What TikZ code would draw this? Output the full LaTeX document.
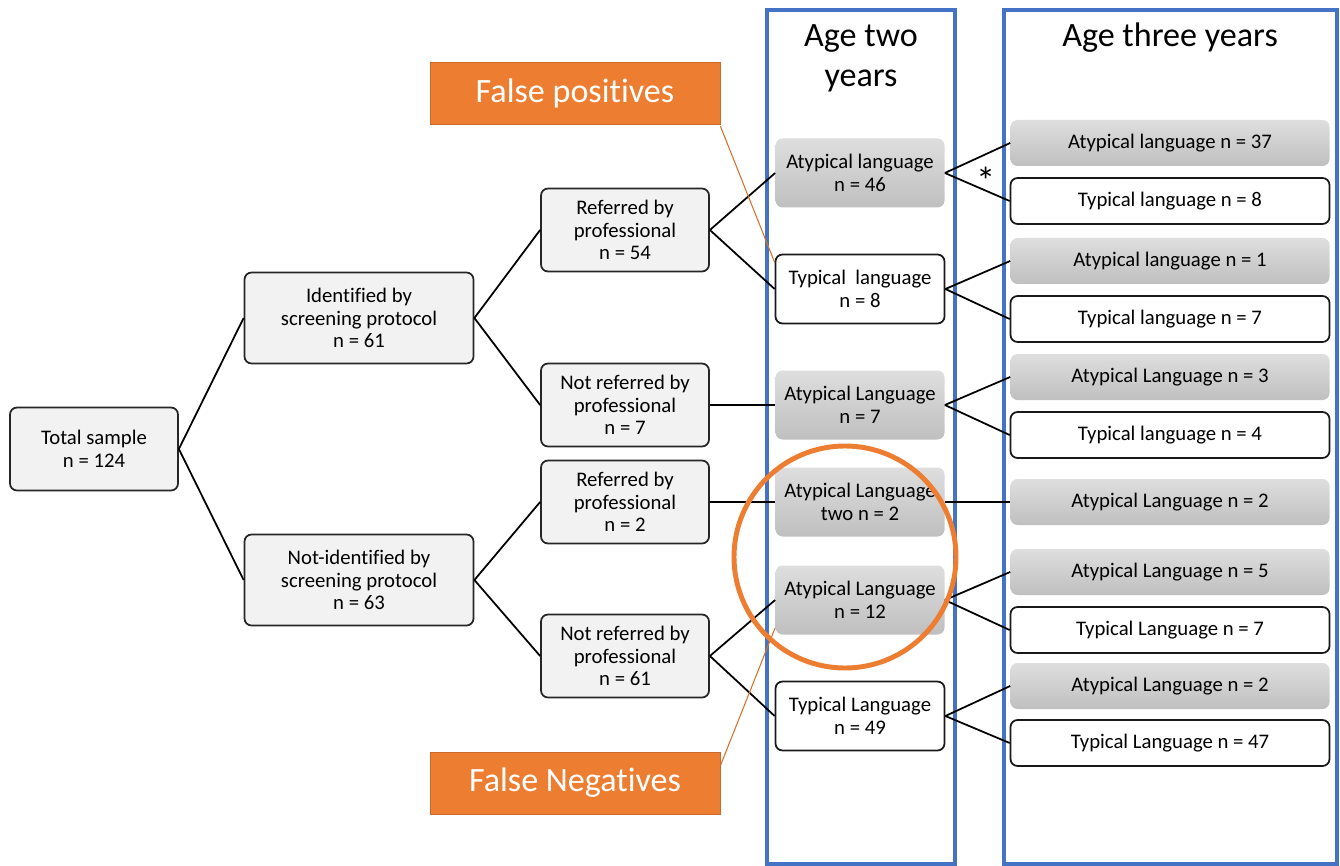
\documentclass[tikz,border=0pt]{standalone}
\usepackage{fontspec}
\setmainfont{Carlito}[Ligatures=NoCommon]
\usetikzlibrary{positioning}
\definecolor{figblue}{HTML}{4472C4}
\definecolor{figorange}{HTML}{ED7D31}
\definecolor{figlight}{HTML}{F2F2F2}

\begin{document}
\begin{tikzpicture}[x=0.2mm,y=-0.2mm,
  base/.style={rounded corners=4pt,align=center,inner sep=2pt,
               font=\fontsize{11.8}{12.9}\selectfont},
  lbox/.style={base,draw=black!85,line width=1pt,fill=figlight,
               minimum width=3.36cm,minimum height=1.66cm},
  wide/.style={minimum width=4.58cm,minimum height=1.82cm},
  grey/.style={base,top color=black!13,bottom color=black!25},
  white/.style={base,draw=black!90,line width=1pt,fill=white},
  two/.style={minimum width=3.38cm,minimum height=1.38cm},
  three/.style={minimum width=6.38cm,minimum height=0.92cm},
  hdr/.style={align=center,font=\fontsize{19.4}{22.7}\selectfont},
  tag/.style={fill=figorange,draw=figorange!85!black,text=white,
              minimum width=5.8cm,minimum height=1.24cm,
              font=\fontsize{19.4}{22}\selectfont},
  link/.style={black,line width=1pt},
  lead/.style={figorange!90!black,line width=0.6pt}
]
\useasboundingbox (0,0) rectangle (1340,866);

% ---- Columns ------------------------------------------------
\draw[figblue,line width=1.8pt] (767,10) rectangle (955,864);
\draw[figblue,line width=1.8pt] (1004,10) rectangle (1337,864);
\node[hdr] (h2) at (861,58) {Age two\\years};
\node[hdr] (h3) at (1170,38) {Age three years};

% ---- Screening ----------------------------------------------
\node[lbox] (tot) at (94,449) {Total sample\\n = 124};
\node[lbox,wide] (idf) at (359,318) {Identified by\\screening protocol\\n = 61};
\node[lbox,wide] (nid) at (359,580) {Not-identified by\\screening protocol\\n = 63};

% ---- Professional -------------------------------------------
\node[lbox] (r54) at (625,230) {Referred by\\professional\\n = 54};
\node[lbox] (n7)  at (625,405) {Not referred by\\professional\\n = 7};
\node[lbox] (r2)  at (625,502) {Referred by\\professional\\n = 2};
\node[lbox] (n61) at (625,656) {Not referred by\\professional\\n = 61};

% ---- Age two ------------------------------------------------
\node[grey,two]  (a46) at (860,173) {Atypical language\\n = 46};
\node[white,two] (t8)  at (860,289) {Typical\ \ language\\n = 8};
\node[grey,two]  (a7)  at (860,405) {Atypical Language\\n = 7};
\node[grey,two]  (a2)  at (860,502) {Atypical Language\\two n = 2};
\node[grey,two]  (a12) at (860,600) {Atypical Language\\n = 12};
\node[white,two] (t49) at (860,716) {Typical Language\\n = 49};

% ---- Age three ----------------------------------------------
\node[grey,three]  (b37) at (1170,143) {Atypical language n = 37};
\node[white,three] (c8)  at (1170,201) {Typical language n = 8};
\node[grey,three]  (b1)  at (1170,261) {Atypical language n = 1};
\node[white,three] (c7)  at (1170,319) {Typical language n = 7};
\node[grey,three]  (b3)  at (1170,377) {Atypical Language n = 3};
\node[white,three] (c4)  at (1170,435) {Typical language n = 4};
\node[grey,three]  (b2)  at (1170,502) {Atypical Language n = 2};
\node[grey,three]  (b5)  at (1170,572) {Atypical Language n = 5};
\node[white,three] (d7)  at (1170,630) {Typical Language n = 7};
\node[grey,three]  (e2)  at (1170,686) {Atypical Language n = 2};
\node[white,three] (d47) at (1170,743) {Typical Language n = 47};

% ---- Connectors ---------------------------------------------
\draw[link] (tot.east) -- (idf.west);
\draw[link] (tot.east) -- (nid.west);
\draw[link] (idf.east) -- (r54.west);
\draw[link] (idf.east) -- (n7.west);
\draw[link] (nid.east) -- (r2.west);
\draw[link] (nid.east) -- (n61.west);
\draw[link] (r54.east) -- (a46.west);
\draw[link] (r54.east) -- (t8.west);
\draw[link] (n7.east)  -- (a7.west);
\draw[link] (r2.east)  -- (a2.west);
\draw[link] (n61.east) -- (a12.west);
\draw[link] (n61.east) -- (t49.west);
\draw[link] (a46.east) -- (b37.west);
\draw[link] (a46.east) -- (c8.west);
\draw[link] (t8.east)  -- (b1.west);
\draw[link] (t8.east)  -- (c7.west);
\draw[link] (a7.east)  -- (b3.west);
\draw[link] (a7.east)  -- (c4.west);
\draw[link] (a2.east)  -- (b2.west);
\draw[link] (a12.east) -- (b5.west);
\draw[link] (a12.east) -- (d7.west);
\draw[link] (t49.east) -- (e2.west);
\draw[link] (t49.east) -- (d47.west);
\node (star) at (986,181) {\fontsize{22}{22}\selectfont *};

% ---- Callouts -----------------------------------------------
\node[tag] (fp) at (575,93)  {False positives};
\node[tag] (fn) at (575,783) {False Negatives};
\draw[lead] ([yshift=-1pt]fp.south east) -- ([yshift=-5pt]t8.north west);
\draw[lead] ([yshift=-8pt]fn.north east) -- ([yshift=4pt]a12.south west);
\node[circle,draw=figorange,line width=2.8pt,minimum size=4.44cm] (ring) at (845,557) {};

\end{tikzpicture}
\end{document}
